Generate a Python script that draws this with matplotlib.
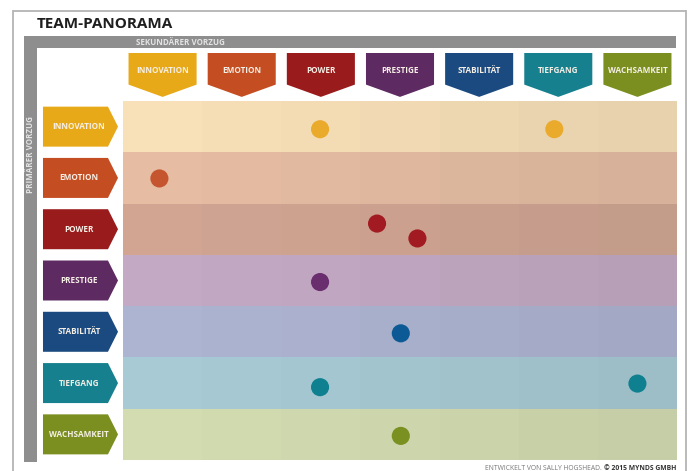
import matplotlib
matplotlib.use("Agg")
import matplotlib.pyplot as plt
from matplotlib.patches import Polygon, Rectangle
import matplotlib.colors as mcolors
import numpy as np

# ---------------- data ----------------
categories = ["INNOVATION", "EMOTION", "POWER", "PRESTIGE", "STABILITÄT", "TIEFGANG", "WACHSAMKEIT"]
category_colors = ["#e8a918", "#c44d22", "#9a1b1c", "#5d2a62", "#1b4a80", "#17808e", "#7a8f1f"]
band_colors = ["#f8e0b8", "#e6bca3", "#d1a592", "#c4a9c4", "#adb4d1", "#a7cad4", "#d3dcb1"]
dot_colors = ["#eaaa2b", "#c4552e", "#a21a22", "#6a2d6e", "#0b5a96", "#0e8090", "#7a9020"]

# each dot: primary (row) position, secondary (column) position
dot_primary = [0.55, 0.55, 1.51, 2.39, 2.68, 3.53, 4.53, 5.58, 5.51, 6.53]
dot_secondary = [2.49, 5.45, 0.46, 3.21, 3.72, 2.49, 3.51, 2.49, 6.50, 3.51]
dot_group = [0, 0, 1, 2, 2, 3, 4, 5, 5, 6]

title = "TEAM-PANORAMA"
x_title = "SEKUNDÄRER VORZUG"
y_title = "PRIMÄRER VORZUG"
footer_a = "ENTWICKELT VON SALLY HOGSHEAD. "
footer_b = "© 2015 MYNDS GMBH"

FONT = ["Open Sans", "DejaVu Sans"]
plt.rcParams['font.family'] = FONT

W, H = 694, 471
fig = plt.figure(figsize=(W / 100, H / 100), dpi=100)

# background / decoration axes in pixel coords
bg = fig.add_axes([0, 0, 1, 1])
bg.set_xlim(0, W)
bg.set_ylim(H, 0)
bg.axis("off")

frame_c = "#b4b4b4"
bg.plot([13, 686], [10.5, 10.5], color=frame_c, lw=1.3, solid_capstyle="butt")
bg.plot([13, 13], [10.5, H], color=frame_c, lw=1.3)
bg.plot([686, 686], [10.5, H], color=frame_c, lw=1.3)

band_gray = "#8e8e8e"
bg.add_patch(Rectangle((24, 36), 652, 12, color=band_gray, lw=0))
bg.add_patch(Rectangle((24, 36), 13, 426, color=band_gray, lw=0))

bg.text(37, 24, title, fontsize=11, fontweight="bold", color="#1e1e1e",
        ha="left", va="center")
bg.text(136, 42.3, x_title, fontsize=5.8, fontweight="bold", color="#e4e4e4",
        ha="left", va="center")
bg.text(30.5, 116, y_title, fontsize=5.8, fontweight="bold", color="#e4e4e4",
        ha="center", va="top", rotation=90)

ta = bg.text(676, 468.5, footer_b, fontsize=4.9, fontweight="bold", color="#333333",
             ha="right", va="center")
fig.canvas.draw()
bb = ta.get_window_extent(renderer=fig.canvas.get_renderer())
x_left = bb.x0  # display px == figure px at dpi 100
bg.text(x_left, 468.5, footer_a, fontsize=4.9, color="#777777", ha="right", va="center")

# ---------------- grid axes ----------------
gx0, gx1, gy0, gy1 = 123, 677, 101, 460
ax = fig.add_axes([gx0 / W, (H - gy1) / H, (gx1 - gx0) / W, (gy1 - gy0) / H])
ax.set_xlim(0, len(categories))
ax.set_ylim(len(categories), 0)
ax.axis("off")
ax.patch.set_alpha(0)

n = len(categories)
for r in range(n):
    base = np.array(mcolors.to_rgb(band_colors[r]))
    for c in range(n):
        f = 1 - 0.014 * c
        col = np.clip(base * f + 0.003 * c, 0, 1)
        ax.add_patch(Rectangle((c, r), 1, 1, color=col, lw=0, zorder=1))

label_c = "#f6efe6"
# column headers (pentagons pointing down)
for i, (name, colr) in enumerate(zip(categories, category_colors)):
    x0, x1 = i + 0.07, i + 0.93
    top, body, tip = -0.936, -0.32, -0.08
    poly = Polygon([(x0, top), (x1, top), (x1, body), (i + 0.5, tip), (x0, body)],
                   closed=True, color=colr, lw=0, clip_on=False, zorder=2)
    ax.add_patch(poly)
    ax.text(i + 0.5, -0.585, name, fontsize=5.9, fontweight="bold", color=label_c,
            ha="center", va="center", clip_on=False, zorder=3)

# row labels (arrows pointing right)
for r, (name, colr) in enumerate(zip(categories, category_colors)):
    x0, xb, xt = -1.011, -0.19, -0.063
    y0, y1 = r + 0.11, r + 0.89
    poly = Polygon([(x0, y0), (xb, y0), (xt, r + 0.5), (xb, y1), (x0, y1)],
                   closed=True, color=colr, lw=0, clip_on=False, zorder=2)
    ax.add_patch(poly)
    ax.text(-0.555, r + 0.5, name, fontsize=5.9, fontweight="bold", color=label_c,
            ha="center", va="center", clip_on=False, zorder=3)

# dots
ax.scatter(dot_secondary, dot_primary, s=170,
           c=[dot_colors[g] for g in dot_group], lw=0, zorder=4, clip_on=False)

fig.savefig("out.png", dpi=100)
